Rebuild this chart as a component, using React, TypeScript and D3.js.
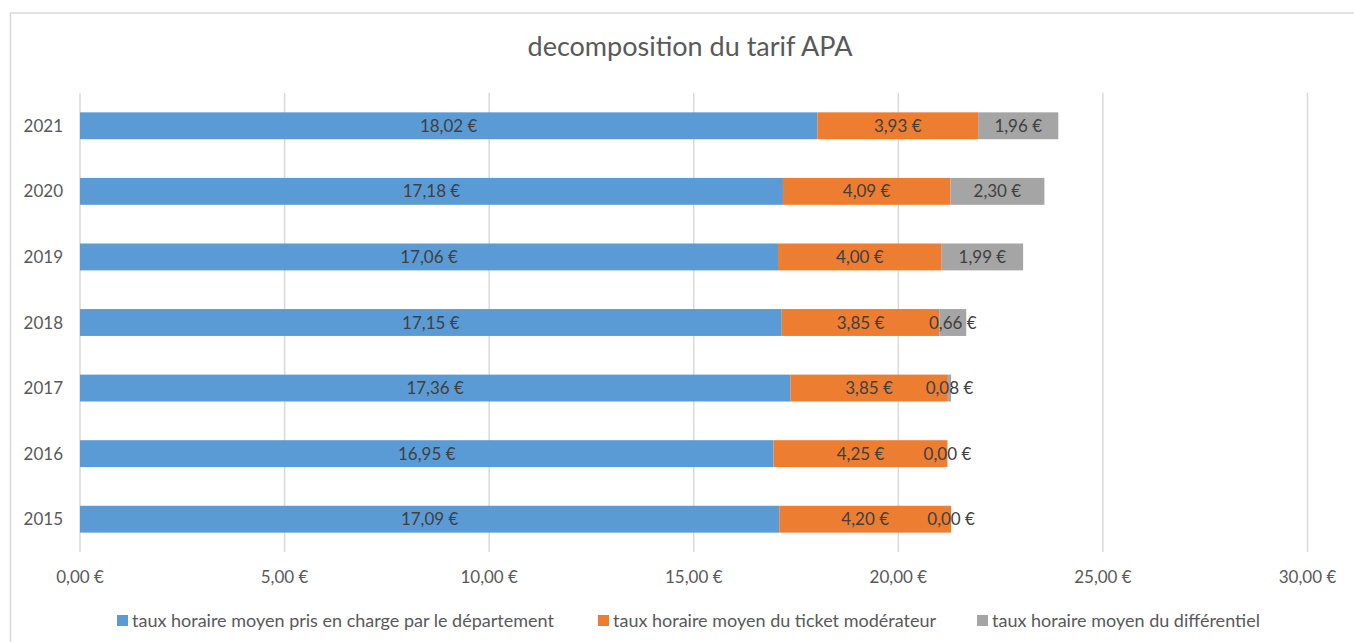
import React, { useRef, useEffect } from 'react';
import * as d3 from 'd3';

const years = ['2021', '2020', '2019', '2018', '2017', '2016', '2015'];
const departement = [18.02, 17.18, 17.06, 17.15, 17.36, 16.95, 17.09];
const ticketModerateur = [3.93, 4.09, 4.0, 3.85, 3.85, 4.25, 4.2];
const differentiel = [1.96, 2.3, 1.99, 0.66, 0.08, 0.0, 0.0];
const seriesNames = [
  'taux horaire moyen pris en charge par le département',
  'taux horaire moyen du ticket modérateur',
  'taux horaire moyen du différentiel',
];
const xTicks = [0, 5, 10, 15, 20, 25, 30];

const colors = ['#5B9BD5', '#ED7D31', '#A5A5A5'];
const FONT = 'Lato, "Open Sans", sans-serif';

const fmt = (v: number) => v.toFixed(2).replace('.', ',') + ' €';

const App = () => {
  const svgRef = useRef<SVGSVGElement>(null);

  useEffect(() => {
    document.body.style.margin = '0';
    const svg = d3.select(svgRef.current);
    svg.selectAll('*').remove();

    const width = 1354;
    const height = 642;
    const margin = { top: 93, left: 80, right: 1354 - 1307.5, bottom: 642 - 552 };

    // chart frame
    svg.append('rect')
      .attr('x', 10.5).attr('y', 13)
      .attr('width', width).attr('height', height)
      .attr('fill', 'white').attr('stroke', '#D9D9D9').attr('stroke-width', 1.5);

    svg.append('text')
      .attr('x', 690).attr('y', 56)
      .attr('text-anchor', 'middle')
      .style('font-family', FONT).style('font-size', '27px')
      .style('fill', '#595959')
      .text('decomposition du tarif APA');

    const x = d3.scaleLinear().domain([0, 30]).range([margin.left, width - margin.right]);
    const y = d3.scaleBand().domain(years).range([margin.top, height - margin.bottom]).paddingInner(0.59).paddingOuter(0.295);

    // gridlines
    svg.append('g').selectAll('line')
      .data(xTicks).enter().append('line')
      .attr('x1', d => x(d)).attr('x2', d => x(d))
      .attr('y1', margin.top).attr('y2', height - margin.bottom)
      .attr('stroke', '#D9D9D9').attr('stroke-width', 1.5);

    // x tick labels
    svg.append('g').selectAll('text')
      .data(xTicks).enter().append('text')
      .attr('x', d => x(d)).attr('y', 583)
      .attr('text-anchor', 'middle')
      .style('font-family', FONT).style('font-size', '17px').style('fill', '#595959')
      .text(d => fmt(d));

    // y labels
    svg.append('g').selectAll('text')
      .data(years).enter().append('text')
      .attr('x', 63).attr('y', d => y(d)! + y.bandwidth() / 2 + 6)
      .attr('text-anchor', 'end')
      .style('font-family', FONT).style('font-size', '17px').style('fill', '#595959')
      .text(d => d);

    const rows = years.map((yr, i) => ({ year: yr, s0: departement[i], s1: ticketModerateur[i], s2: differentiel[i] }));
    const stack = d3.stack<any>().keys(['s0', 's1', 's2'])(rows);

    stack.forEach((layer, li) => {
      const g = svg.append('g');
      g.selectAll('rect')
        .data(layer).enter().append('rect')
        .attr('x', d => x(d[0]))
        .attr('width', d => x(d[1]) - x(d[0]))
        .attr('y', d => y(d.data.year)!)
        .attr('height', y.bandwidth())
        .attr('fill', colors[li]);
    });

    stack.forEach((layer) => {
      svg.append('g').selectAll('text')
        .data(layer).enter().append('text')
        .attr('x', d => (x(d[0]) + x(d[1])) / 2)
        .attr('y', d => y(d.data.year)! + y.bandwidth() / 2 + 6)
        .attr('text-anchor', 'middle')
        .style('font-family', FONT).style('font-size', '17px').style('fill', '#404040')
        .text(d => fmt(d[1] - d[0]));
    });

    // legend
    const legendX = [117, 598, 977];
    const lg = svg.append('g');
    seriesNames.forEach((name, i) => {
      lg.append('rect')
        .attr('x', legendX[i]).attr('y', 615)
        .attr('width', 11).attr('height', 11)
        .attr('fill', colors[i]);
      lg.append('text')
        .attr('x', legendX[i] + 15).attr('y', 627)
        .style('font-family', FONT).style('font-size', '18px').style('fill', '#595959')
        .text(name);
    });
  }, []);

  return <svg ref={svgRef} width={1354} height={642} style={{ display: 'block' }} />;
};

export default App;
